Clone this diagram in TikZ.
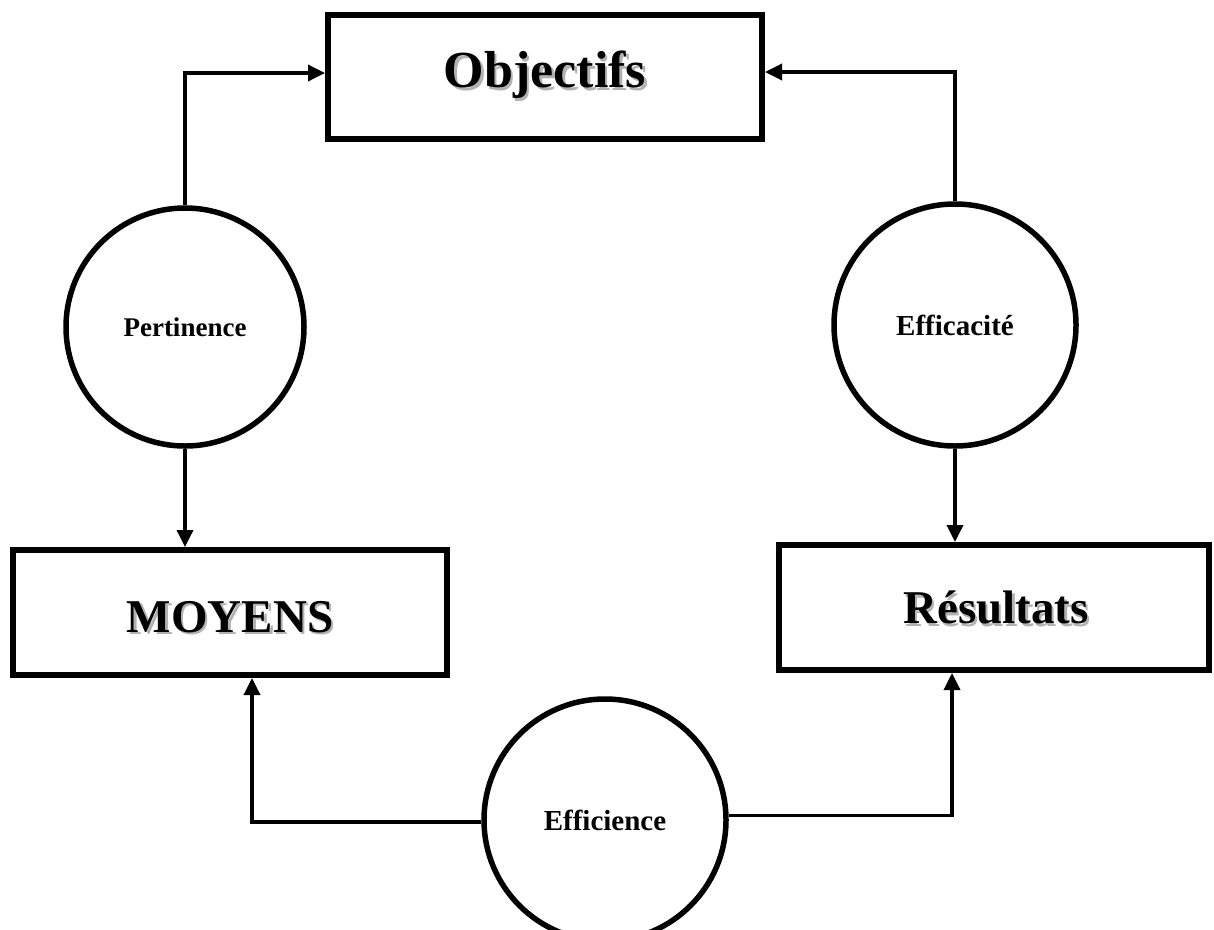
\documentclass[tikz,border=0pt]{standalone}
\usepackage{fontspec}
\setmainfont{Liberation Serif}
\usetikzlibrary{arrows.meta}
\newcommand\shadowed[1]{\makebox[0pt][l]{\hspace{2.5pt}\raisebox{-2.5pt}{\color{black!30}#1}}#1}
\tikzset{
  box/.style={draw, line width=6pt, rectangle, inner sep=0pt},
  circ/.style={draw, line width=5.5pt, circle, inner sep=0pt, minimum size=238pt},
  conn/.style={line width=3.5pt, line join=miter, -{Triangle[length=17pt,width=16pt]}},
  bigobj/.style={font=\fontsize{52}{60}\selectfont\bfseries},
  big/.style={font=\fontsize{47}{56}\selectfont\bfseries},
  small/.style={font=\fontsize{27}{32}\selectfont\bfseries},
  smallb/.style={font=\fontsize{29}{34}\selectfont\bfseries}
}
\begin{document}
\begin{tikzpicture}[x=1pt,y=-1pt]
\useasboundingbox (0,0) rectangle (1214,929);
\fill[white] (0,0) rectangle (1214,929);

% boxes
\node[box, minimum width=434pt, minimum height=124pt] (obj) at (545,77) {};
\node[bigobj] (objt) at (545,76) {\shadowed{Objectifs}};
\node[box, minimum width=434pt, minimum height=125pt] (moy) at (230,612.5) {};
\node[big] (moyt) at (230,618) {\shadowed{MOYENS}};
\node[box, minimum width=430pt, minimum height=125pt] (res) at (994,607.5) {};
\node[big] (rest) at (996,609) {\shadowed{Résultats}};

% circles
\node[circ, small] (pert) at (185,327) {Pertinence};
\node[circ, smallb, minimum size=242pt] (effa) at (955,325) {Efficacité};
\node[circ, smallb, minimum size=242pt] (effi) at (605,820) {Efficience};

% connectors
\draw[conn] (pert.north) |- ([yshift=4pt]obj.west);
\draw[conn] (effa.north) |- ([yshift=5pt]obj.east);
\draw[conn] (pert.south) -- (pert.south |- moy.north);
\draw[conn] (effa.south) -- (effa.south |- res.north);
\draw[conn] (effi.181) -| ([xshift=22pt]moy.south);
\draw[conn] (effi.2.3) -| ([xshift=-42pt]res.south);
\end{tikzpicture}
\end{document}
